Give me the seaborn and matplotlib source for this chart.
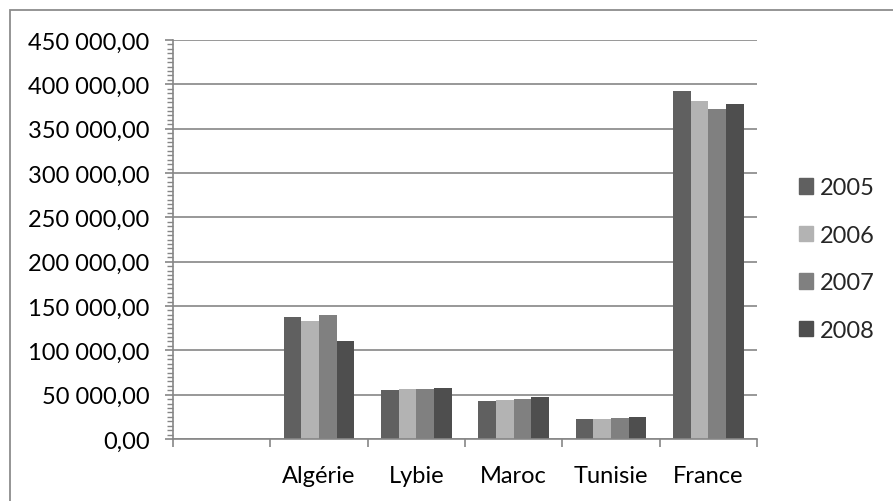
import matplotlib.pyplot as plt
import matplotlib.patches as mpatches
from matplotlib.ticker import FuncFormatter, MultipleLocator, FixedLocator
import numpy as np
import pandas as pd
import seaborn as sns

sns.set_theme(style="white")
plt.rcParams['font.family'] = ['Lato', 'DejaVu Sans']

# Data
countries = [' ', 'Algérie', 'Lybie', 'Maroc', 'Tunisie', 'France']
years = ['2005', '2006', '2007', '2008']
v2005 = [138000, 55200, 42900, 22400, 392000]
v2006 = [133000, 55900, 44000, 22400, 381000]
v2007 = [139500, 56300, 45500, 23500, 371800]
v2008 = [110800, 57000, 47000, 24600, 377500]
colors = ['#606060', '#b3b3b3', '#808080', '#4e4e4e']

rows = []
for year, vals in zip(years, [v2005, v2006, v2007, v2008]):
    for c, v in zip(countries[1:], vals):
        rows.append({'Pays': c, 'Année': year, 'Valeur': v})
df = pd.DataFrame(rows)

fig = plt.figure(figsize=(8.93, 5.02), dpi=100)
ax = fig.add_axes([173 / 893, 1 - 440 / 502, (757 - 173) / 893, (440 - 41) / 502])

sns.barplot(data=df, x='Pays', y='Valeur', hue='Année', order=countries,
            hue_order=years, palette=colors, width=4 / 5.5, gap=0,
            linewidth=0, saturation=1, ax=ax, legend=True)

fs = 17
grid_col = '#868686'
ax.set_xlim(-0.5, 5.5)
ax.set_ylim(0, 450000)
ax.yaxis.set_major_locator(MultipleLocator(50000))
ax.yaxis.set_minor_locator(MultipleLocator(5000))
ax.yaxis.set_major_formatter(FuncFormatter(
    lambda v, p: f"{v:,.2f}".replace(',', ' ').replace('.', ',')))
ax.yaxis.grid(True, color=grid_col, linewidth=1.2)
ax.set_axisbelow(True)
ax.xaxis.set_minor_locator(FixedLocator(np.arange(-0.5, 6, 1)))

for s in ['top', 'right']:
    ax.spines[s].set_visible(False)
for s in ['left', 'bottom']:
    ax.spines[s].set_color(grid_col)
    ax.spines[s].set_linewidth(1.2)

ax.tick_params(axis='y', which='major', left=True, length=6, width=1.2,
               color=grid_col, labelsize=fs, pad=11, labelcolor='black')
ax.tick_params(axis='y', which='minor', left=True, length=4, width=1,
               color=grid_col)
ax.tick_params(axis='x', which='major', bottom=False, labelsize=fs,
               pad=13, labelcolor='black')
ax.tick_params(axis='x', which='minor', bottom=True, length=6, width=1.2,
               color=grid_col)
ax.set_xlabel('')
ax.set_ylabel('')

handles = [mpatches.Patch(color=c) for c in colors]
ax.legend(handles, years, loc='center left', bbox_to_anchor=(1.055, 0.451),
          frameon=False, fontsize=fs, handlelength=0.62, handleheight=0.62,
          handletextpad=0.3, labelspacing=1.12, borderaxespad=0)

# chart outer frame (only left and top visible)
fig.patches.append(mpatches.Rectangle((10 / 893, -0.1), 1.2, 1 - 11 / 502 + 0.1,
                                      transform=fig.transFigure, fill=False,
                                      edgecolor='#8c8c8c', linewidth=1.3))

fig.savefig('out.png', dpi=100)
